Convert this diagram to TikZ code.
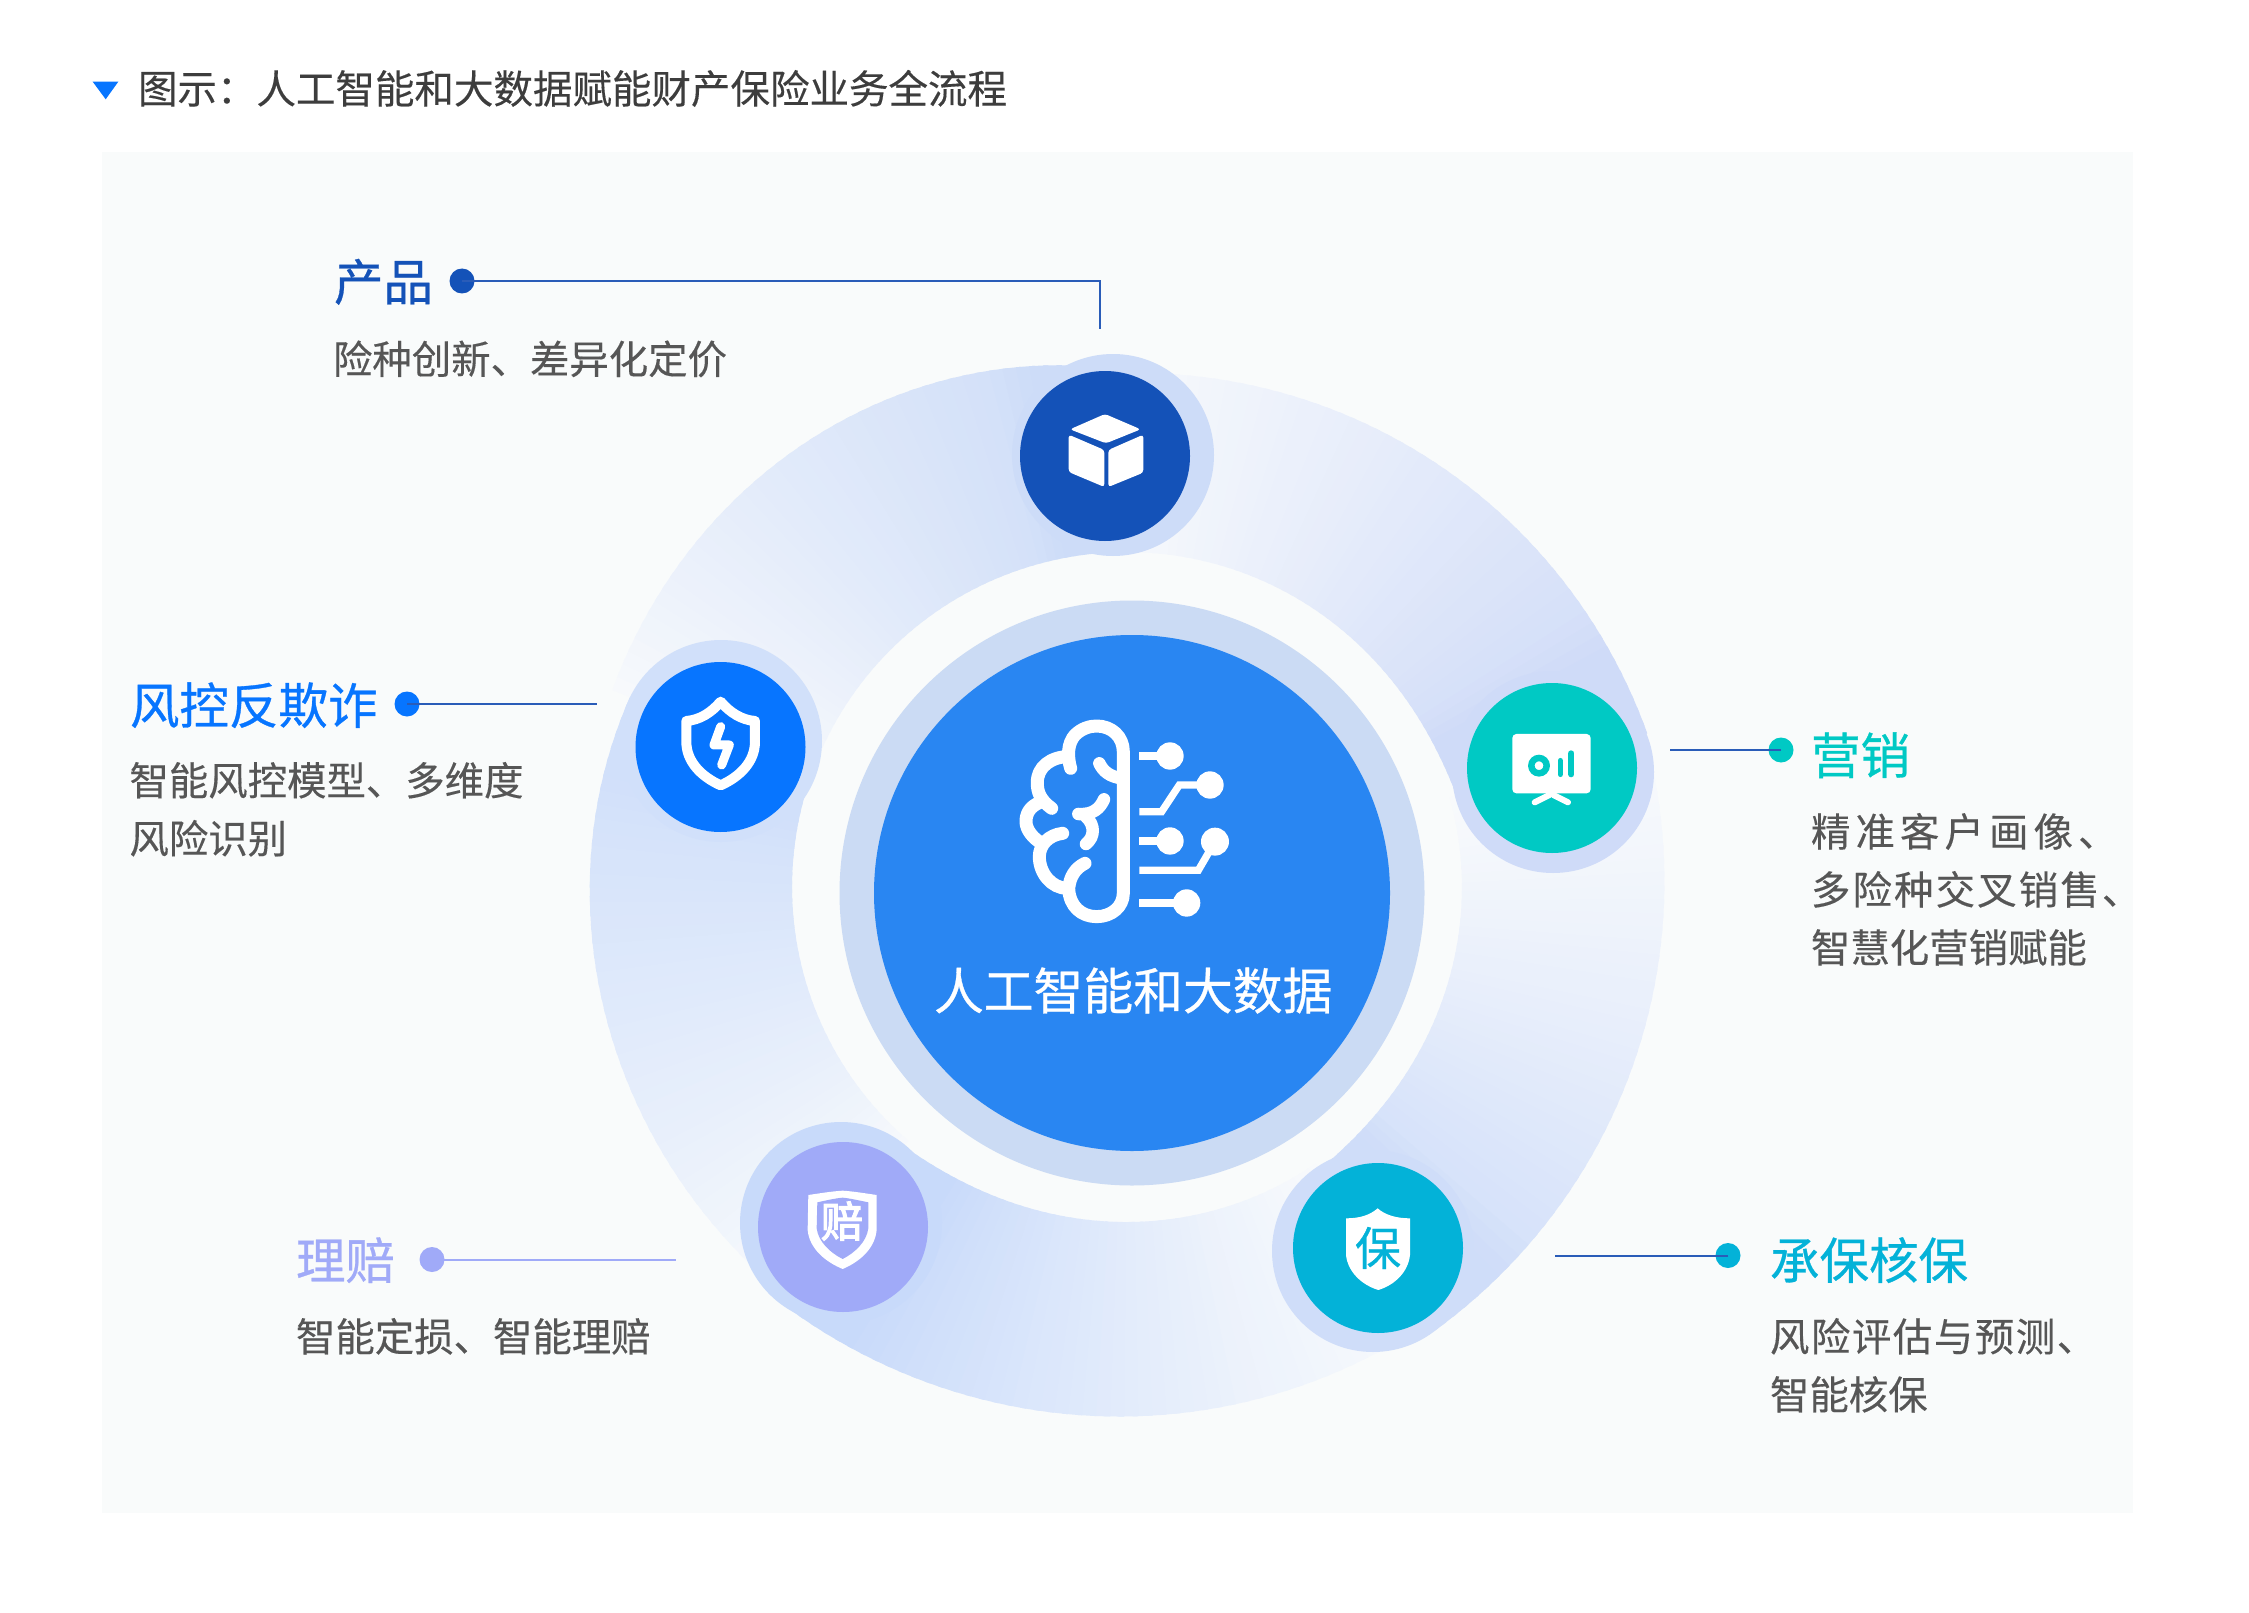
\documentclass[tikz,border=0pt]{standalone}
\usepackage{fontspec}
\setmainfont{Noto Sans CJK SC}
\newfontfamily\medcjk[FakeBold=0.6]{Noto Sans CJK SC}
\newfontfamily\boldcjk[FakeBold=3]{Noto Sans CJK SC}
\newfontfamily\subcjk[FakeBold=0.3]{Noto Sans CJK SC}
\definecolor{panel}{HTML}{F9FBFB}
\definecolor{segstart}{HTML}{F8FAFC}
\definecolor{cprod}{HTML}{1452B8}
\definecolor{cline}{HTML}{2A5CB8}
\definecolor{crisk}{HTML}{0775FF}
\definecolor{cmkt}{HTML}{00C9C4}
\definecolor{cund}{HTML}{03B2D8}
\definecolor{cclaim}{HTML}{A0AAF8}
\definecolor{hprod}{HTML}{CDDCF8}
\definecolor{hrisk}{HTML}{D1E0FA}
\definecolor{hmkt}{HTML}{CFDBF8}
\definecolor{hund}{HTML}{CFDDF9}
\definecolor{hclaim}{HTML}{C8DAFA}
\definecolor{cblue}{HTML}{2986F2}
\definecolor{chalo}{HTML}{CBDBF4}
\definecolor{ctitle}{HTML}{3D3D3D}
\definecolor{csub}{HTML}{565656}
\tikzset{
  txt/.style={inner sep=0pt,outer sep=0pt,anchor=base west},
  headtxt/.style={txt,font=\fontsize{49.5}{56}\medcjk},
  subtxt/.style={inner sep=0pt,outer sep=0pt,anchor=north west,align=left,text=csub,font=\fontsize{39.4}{58}\subcjk},
  icondisc/.style={circle,draw=none,inner sep=0pt,outer sep=0pt,minimum size=170pt},
  halodisc/.style={circle,draw=none,inner sep=0pt,outer sep=0pt,minimum size=202pt},
  dotnode/.style={circle,draw=none,inner sep=0pt,outer sep=0pt,minimum size=25pt},
  leader/.style={line width=2pt},
  iconline/.style={draw=white,line cap=round,line join=round},
}
\begin{document}
\begin{tikzpicture}[x=1pt,y=-1pt]
\useasboundingbox (0,0) rectangle (2249,1613);
\fill[white] (0,0) rectangle (2249,1613);
\fill[panel] (102,152) rectangle (2133,1513);
% title
\fill[crisk] (92.7,81.7) -- (118.3,81.7) -- (105.7,99.3) -- cycle;
\node[txt,text=ctitle,font=\fontsize{39.5}{46}\subcjk] (title) at (138,103.5) {图示：人工智能和大数据赋能财产保险业务全流程};
% ring
\def\cx{1127}\def\cy{887}\def\ox{1126}\def\oy{878}\def\rin{335}
\foreach \a/\b/\c/\rz/\dr/\pw/\gm/\rise/\top/\n in {
  -91.8/-15.5/hmkt/505/36/1.5/1.0/7/82/52,
  -15.5/55.7/hund/538/10/2/1.2/7/80/48,
  55.7/130.7/hclaim/537/11/2.5/1.2/7/88/50,
  130.7/200.1/hrisk/539/-11/4/0.8/0/90/46,
  200.1/268.2/hprod/547/-37/2.5/0.8/0/84/46}{
  \foreach \i in {1,...,\n}{
    \pgfmathsetmacro\aone{\a+(\b-\a)*(\i-1)/\n}
    \pgfmathsetmacro\atwo{\a+(\b-\a)*min(\i+0.4,\n)/\n}
    \pgfmathsetmacro\tone{(\i-1)/\n}
    \pgfmathsetmacro\ttwo{min(\i+0.4,\n)/\n}
    \pgfmathsetmacro\tm{(\i-0.5)/\n}
    \pgfmathsetmacro\col{\tm<0.8 ? \top*pow(\tm/0.8,\gm) : min(100,\top+(100-\top)*(\tm-0.8)/0.07)}
    \pgfmathsetmacro\ra{\rz+\dr*pow(\tone,\pw)}
    \pgfmathsetmacro\rb{\rz+\dr*pow(\ttwo,\pw)}
    \pgfmathsetmacro\ria{\rin+\rise*pow(\tone,6)}
    \pgfmathsetmacro\rib{\rin+\rise*pow(\ttwo,6)}
    \fill[\c!\col!segstart]
      ({\cx+\ria*cos(\aone)},{\cy+\ria*sin(\aone)}) --
      ({\ox+\ra*cos(\aone)},{\oy+\ra*sin(\aone)}) --
      ({\ox+\rb*cos(\atwo)},{\oy+\rb*sin(\atwo)}) --
      ({\cx+\rib*cos(\atwo)},{\cy+\rib*sin(\atwo)}) -- cycle;
  }
}
% halos
\node[halodisc,fill=hprod] (hp) at (1113,455) {};
\node[halodisc,fill=hrisk] (hr) at (721,741) {};
\node[halodisc,fill=hmkt] (hm) at (1553,772) {};
\node[halodisc,fill=hund] (hu) at (1373,1251) {};
\node[halodisc,fill=hclaim] (hc) at (841,1223) {};
% centre
\node[circle,fill=chalo,inner sep=0pt,minimum size=585pt] (corehalo) at (1132,893) {};
\node[circle,fill=cblue,inner sep=0pt,minimum size=516pt] (core) at (1132,893) {};
\node[txt,text=white,font=\fontsize{49.8}{56}\medcjk] (coretxt) at (934,1009.5) {人工智能和大数据};
% brain
\begin{scope}[shift={(980,640)},x=0.3333pt,y=-0.3333pt]
  \draw[iconline,line width=13pt]
    (272,385) .. controls (262,350) and (262,310) .. (285,285)
    .. controls (305,265) and (330,258) .. (350,258)
    .. controls (395,258) and (430,290) .. (430,335)
    -- (430,760)
    .. controls (430,800) and (395,830) .. (350,830)
    .. controls (305,830) and (268,800) .. (266,745)
    .. controls (270,710) and (285,685) .. (315,670);
  \draw[iconline,line width=13pt]
    (265,350) .. controls (215,350) and (170,380) .. (172,430)
    .. controls (172,455) and (180,480) .. (215,505);
  \draw[iconline,line width=13pt]
    (178,488) .. controls (150,500) and (138,520) .. (138,545)
    .. controls (138,570) and (160,595) .. (182,608);
  \draw[iconline,line width=13pt]
    (248,580) .. controls (205,585) and (178,615) .. (178,650)
    .. controls (178,700) and (215,745) .. (262,745);
  \draw[iconline,line width=12.5pt] (358,370) .. controls (370,395) and (390,410) .. (425,415);
  \draw[iconline,line width=12.5pt] (372,478) .. controls (360,505) and (340,525) .. (295,522);
  \draw[iconline,line width=12.5pt] (318,530) .. controls (345,555) and (345,590) .. (318,612);
  \fill[white] (570,348) circle[radius=41] (690,435) circle[radius=41] (570,603) circle[radius=41] (705,605) circle[radius=42] (620,789) circle[radius=41];
  \draw[white,line width=7.3pt] (478,348) -- (570,348);
  \draw[white,line width=7.3pt,line join=miter] (478,515) -- (545,515) -- (598,435) -- (690,435);
  \draw[white,line width=7.3pt] (478,603) -- (570,603);
  \draw[white,line width=7.3pt,line join=miter] (478,691) -- (655,691) -- (705,605);
  \draw[white,line width=7.3pt] (478,789) -- (620,789);
\end{scope}
% icon discs
\node[icondisc,fill=cprod] (prod) at (1105,456) {};
\node[icondisc,fill=crisk] (risk) at (720.5,747) {};
\node[icondisc,fill=cmkt] (mkt) at (1552,768) {};
\node[icondisc,fill=cund] (und) at (1378,1248) {};
\node[icondisc,fill=cclaim] (claim) at (843,1227) {};
% cube
\begin{scope}[shift={(980,340)},x=0.3333pt,y=-0.3333pt]
  \fill[white,rounded corners=3pt] (375,222) -- (482,268) -- (378,310) -- (270,268) -- cycle;
  \fill[white,rounded corners=3pt] (266,284) -- (373,330) -- (373,441) -- (266,396) -- cycle;
  \fill[white,rounded corners=3pt] (385,330) -- (490,284) -- (490,398) -- (385,441) -- cycle;
\end{scope}
% lightning shield
\begin{scope}[shift={(600,630)},x=0.3333pt,y=-0.3333pt]
  \draw[iconline,line width=10pt] (362,215) .. controls (390,248) and (425,270) .. (465,273)
    -- (465,335) .. controls (465,395) and (420,440) .. (362,466)
    .. controls (304,440) and (259,395) .. (259,335) -- (259,273)
    .. controls (299,270) and (334,248) .. (362,215) -- cycle;
  \draw[iconline,line width=9pt] (362,290) -- (342,345) -- (388,345) -- (365,405);
\end{scope}
% presentation
\begin{scope}[shift={(1450,670)},x=0.3333pt,y=-0.3333pt]
  \fill[white,rounded corners=4pt] (187,192) rectangle (422,370);
  \draw[draw=cmkt,line width=6.5pt] (267,287) circle[radius=23];
  \draw[draw=cmkt,line width=5.5pt,line cap=round] (331,272) -- (331,313);
  \draw[draw=cmkt,line width=6pt,line cap=round] (364,250) -- (364,313);
  \draw[iconline,line width=6pt] (298,375) -- (254,397);
  \draw[iconline,line width=6pt] (310,375) -- (354,397);
\end{scope}
% underwriting shield
\begin{scope}[shift={(1280,1160)},x=0.3333pt,y=-0.3333pt]
  \fill[white] (293,145) .. controls (315,165) and (350,175) .. (390,175) -- (390,285)
    .. controls (385,335) and (345,375) .. (295,390)
    .. controls (245,375) and (203,335) .. (198,285) -- (198,175)
    .. controls (240,175) and (270,165) .. (293,145) -- cycle;
\end{scope}
\node[inner sep=0pt,text=cund,font=\fontsize{46}{50}\medcjk] (baotxt) at (1378,1248) {保};
% claim shield
\begin{scope}[shift={(740,1120)},x=0.3333pt,y=-0.3333pt]
  \fill[white] (205,225) .. controls (240,220) and (275,214) .. (308,212)
    .. controls (340,214) and (375,220) .. (410,225) -- (410,330)
    .. controls (405,385) and (360,425) .. (308,447)
    .. controls (255,425) and (208,385) .. (203,330) -- cycle;
  \fill[cclaim] (232,247) .. controls (255,242) and (285,235) .. (308,233)
    .. controls (330,235) and (360,242) .. (385,247) -- (385,325)
    .. controls (380,365) and (345,398) .. (308,417)
    .. controls (270,398) and (235,365) .. (230,325) -- cycle;
\end{scope}
\node[inner sep=0pt,text=white,font=\fontsize{42}{46}\boldcjk] (peitxt) at (842,1221) {赔};
% labels and leaders
\node[headtxt,text=cprod] (t1) at (334,300.5) {产品};
\node[dotnode,fill=cprod] (d1) at (462,281) {};
\coordinate (e1) at (1100,329);
\draw[leader,cline] (d1.center) -| (e1);
\node[subtxt] (s1) at (333,340.5) {险种创新、差异化定价};

\node[headtxt,text=crisk] (t2) at (130,724) {风控反欺诈};
\node[dotnode,fill=crisk] (d2) at (407,704) {};
\coordinate (e2) at (597,704);
\draw[leader,cline] (d2.center) -- (e2);
\node[subtxt] (s2) at (129.5,762) {智能风控模型、多维度\\风险识别};

\node[headtxt,text=cmkt] (t3) at (1811,774) {营销};
\node[dotnode,fill=cmkt] (d3) at (1781,750) {};
\coordinate (e3) at (1670,750);
\draw[leader,cline] (d3.center) -- (e3);
\node[subtxt] (s3) at (1811,813) {{\addfontfeature{LetterSpace=13}精准客户画像、}\\{\addfontfeature{LetterSpace=5.5}多险种交叉销售、}\\智慧化营销赋能};

\node[headtxt,text=cund] (t4) at (1770,1279) {承保核保};
\node[dotnode,fill=cund] (d4) at (1728,1255.5) {};
\coordinate (e4) at (1555,1255.5);
\draw[leader,cline] (d4.center) -- (e4);
\node[subtxt] (s4) at (1770,1318) {{\addfontfeature{LetterSpace=4}风险评估与预测、}\\智能核保};

\node[headtxt,text=cclaim] (t5) at (296,1279) {理赔};
\node[dotnode,fill=cclaim] (d5) at (432,1259.5) {};
\coordinate (e5) at (676,1259.5);
\draw[leader,cclaim] (d5.center) -- (e5);
\node[subtxt] (s5) at (296,1318) {智能定损、智能理赔};
\end{tikzpicture}
\end{document}
